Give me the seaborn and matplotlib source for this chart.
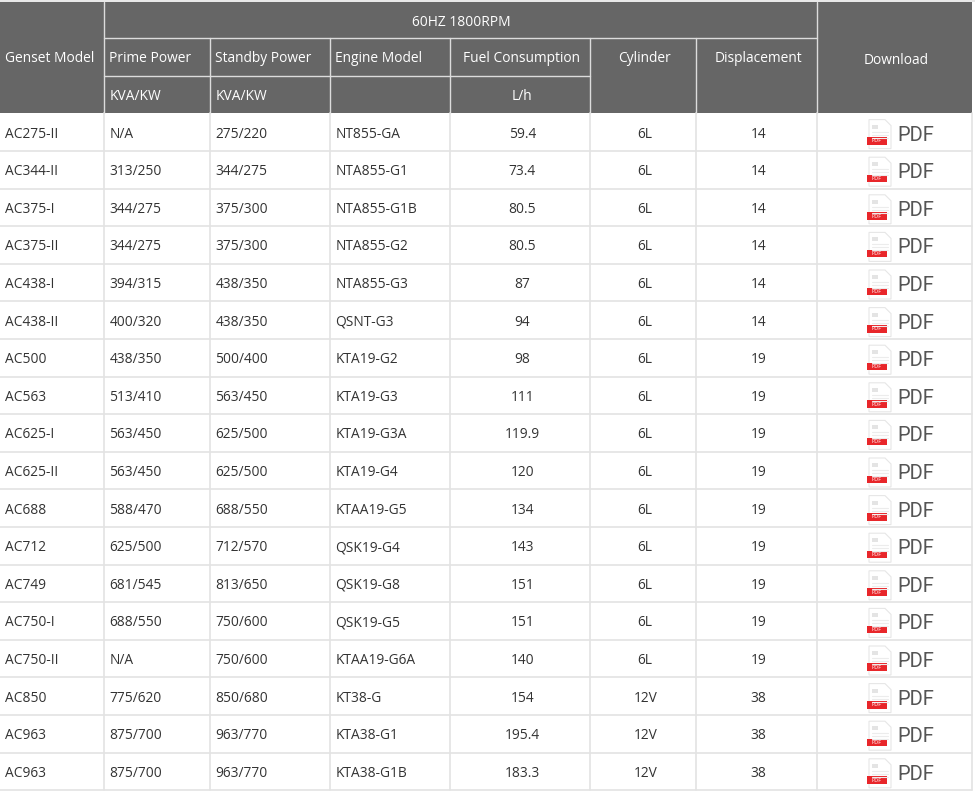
import matplotlib
matplotlib.use("Agg")
import matplotlib.pyplot as plt
from matplotlib.patches import Rectangle, Polygon
import seaborn as sns

sns.set_theme(style="white")
plt.rcParams['font.family'] = ['Open Sans', 'DejaVu Sans']

# ---- data ----
title = "60HZ 1800RPM"
col_headers = ["Genset Model", "Prime Power", "Standby Power", "Engine Model",
               "Fuel Consumption", "Cylinder", "Displacement", "Download"]
unit_headers = ["", "KVA/KW", "KVA/KW", "", "L/h", "", "", ""]
models = ["AC275-II", "AC344-II", "AC375-I", "AC375-II", "AC438-I", "AC438-II",
          "AC500", "AC563", "AC625-I", "AC625-II", "AC688", "AC712", "AC749",
          "AC750-I", "AC750-II", "AC850", "AC963", "AC963"]
prime = ["N/A", "313/250", "344/275", "344/275", "394/315", "400/320", "438/350",
         "513/410", "563/450", "563/450", "588/470", "625/500", "681/545",
         "688/550", "N/A", "775/620", "875/700", "875/700"]
standby = ["275/220", "344/275", "375/300", "375/300", "438/350", "438/350",
           "500/400", "563/450", "625/500", "625/500", "688/550", "712/570",
           "813/650", "750/600", "750/600", "850/680", "963/770", "963/770"]
engine = ["NT855-GA", "NTA855-G1", "NTA855-G1B", "NTA855-G2", "NTA855-G3",
          "QSNT-G3", "KTA19-G2", "KTA19-G3", "KTA19-G3A", "KTA19-G4",
          "KTAA19-G5", "QSK19-G4", "QSK19-G8", "QSK19-G5", "KTAA19-G6A",
          "KT38-G", "KTA38-G1", "KTA38-G1B"]
fuel = ["59.4", "73.4", "80.5", "80.5", "87", "94", "98", "111", "119.9", "120",
        "134", "143", "151", "151", "140", "154", "195.4", "183.3"]
cylinder = ["6L", "6L", "6L", "6L", "6L", "6L", "6L", "6L", "6L", "6L", "6L",
            "6L", "6L", "6L", "6L", "12V", "12V", "12V"]
displacement = ["14", "14", "14", "14", "14", "14", "19", "19", "19", "19",
                "19", "19", "19", "19", "19", "38", "38", "38"]
download = ["PDF"] * 18

# ---- layout (pixels) ----
W, H = 975, 792
col_x = [0, 104.3, 210.3, 330.3, 449.7, 590, 695.5, 817, 972]
head_top = 1.8
head_rows = [1.8, 38.3, 76.3, 113.3]
row_h = 37.6
body_top = 113.3
hdr_bg = "#666666"
hdr_line = "#dcdcdc"
grid = "#e3e3e3"
txt = "#333333"
fs = 9.9
dy = 2.0  # baseline correction

fig = plt.figure(figsize=(W / 100, H / 100), dpi=100)
ax = fig.add_axes([0, 0, 1, 1])
ax.set_xlim(0, W)
ax.set_ylim(H, 0)
ax.axis("off")

# top strip
ax.add_patch(Rectangle((0, 0), W, head_top, color="#e8e8e8", lw=0))
# header background
ax.add_patch(Rectangle((0, head_top), col_x[-1], body_top - head_top, color=hdr_bg, lw=0))

# header lines
ax.plot([col_x[1], col_x[1]], [head_top, body_top], color=hdr_line, lw=1)
ax.plot([col_x[7], col_x[7]], [head_top, body_top], color=hdr_line, lw=1)
for cx in col_x[2:7]:
    ax.plot([cx, cx], [head_rows[1], body_top], color=hdr_line, lw=1)
ax.plot([col_x[1], col_x[7]], [head_rows[1]] * 2, color=hdr_line, lw=1)
ax.plot([col_x[1], col_x[5]], [head_rows[2]] * 2, color=hdr_line, lw=1)

# header texts
ax.text((col_x[1] + col_x[7]) / 2 + 1, 20 + dy, title, color="white", fontsize=fs, ha="center", va="center")
for j, name in enumerate(col_headers):
    y = 57 + dy
    if j in (0, 1, 2, 3):
        ax.text(col_x[j] + 5, y, name, color="white", fontsize=fs, ha="left", va="center")
    else:
        ax.text((col_x[j] + col_x[j + 1]) / 2 + 2, y + (1 if j == 7 else 0), name,
                color="white", fontsize=fs, ha="center", va="center")
for j, u in enumerate(unit_headers):
    if not u:
        continue
    if j in (1, 2):
        ax.text(col_x[j] + 5.5, 95 + dy, u, color="white", fontsize=fs, ha="left", va="center")
    else:
        ax.text((col_x[j] + col_x[j + 1]) / 2 + 2, 95 + dy, u, color="white", fontsize=fs,
                ha="center", va="center")

# body
n = len(models)
cols = [models, prime, standby, engine, fuel, cylinder, displacement]
for i in range(n):
    y0 = body_top + i * row_h
    yc = y0 + row_h / 2
    ax.plot([0, col_x[-1]], [y0 + row_h] * 2, color=grid, lw=1.2)
    for j, col in enumerate(cols):
        if j < 4:
            ax.text(col_x[j] + 5, yc + dy, col[i], color=txt, fontsize=fs, ha="left", va="center")
        else:
            ax.text((col_x[j] + col_x[j + 1]) / 2 + 2.5, yc + dy, col[i], color=txt, fontsize=fs,
                    ha="center", va="center")
    # pdf icon
    px, py = 869, yc - 12.5
    ax.add_patch(Polygon([(px, py), (px + 16, py), (px + 22, py + 6), (px + 22, py + 29),
                          (px, py + 29)], closed=True, facecolor="white",
                         edgecolor="#e6e6e6", lw=0.8))
    ax.add_patch(Rectangle((px + 3, py + 5), 6, 4, color="#e4e4e4", lw=0))
    for k in range(3):
        ax.plot([px + 3, px + 19], [py + 12 + k * 3] * 2, color="#ececec", lw=0.8)
    ax.add_patch(Rectangle((866.7, py + 17.5), 20.5, 7.5, color="#e8262a", lw=0))
    ax.text(877, py + 21.3, "PDF", color="white", fontsize=4, ha="center", va="center")
    ax.text(897.5, yc + 3, download[i], color="#555555", fontsize=14.5, ha="left", va="center",
            family=["Roboto", "DejaVu Sans"])

# vertical body lines
for cx in col_x[1:]:
    ax.plot([cx, cx], [body_top, body_top + n * row_h], color=grid, lw=1.2)

fig.savefig("out.png", dpi=100)
